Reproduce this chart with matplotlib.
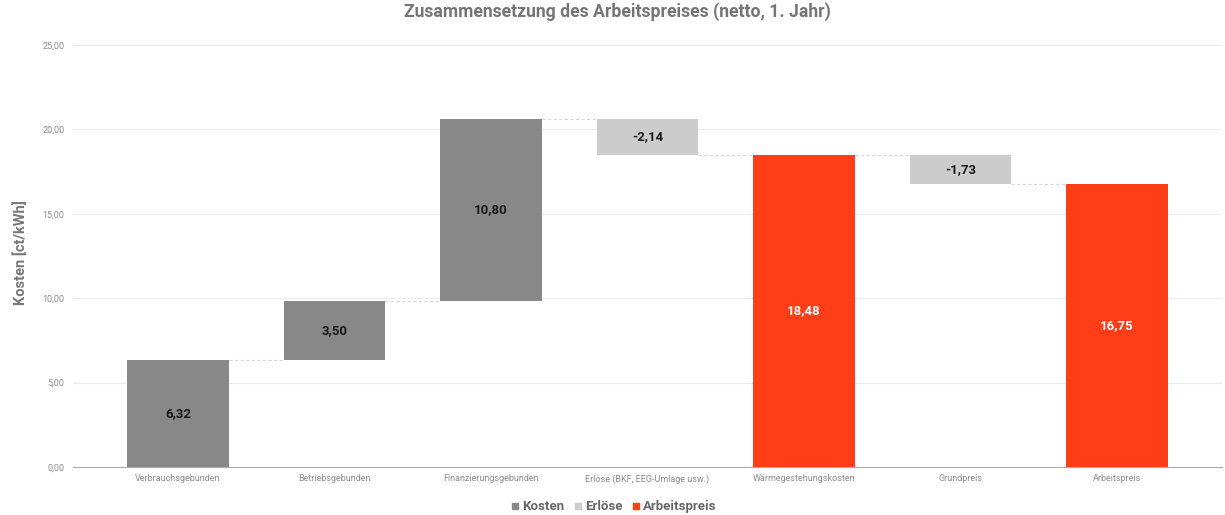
import numpy as np
import matplotlib.pyplot as plt

plt.rcParams['font.family'] = ['Roboto', 'DejaVu Sans']

# waterfall data (ct/kWh)
categories = ['Verbrauchsgebunden', 'Betriebsgebunden', 'Finanzierungsgebunden',
              'Erlöse (BKF, EEG-Umlage usw.)', 'Wärmegestehungskosten',
              'Grundpreis', 'Arbeitspreis']
values = [6.32, 3.50, 10.80, -2.14, 18.48, -1.73, 16.75]
kinds = ['Kosten', 'Kosten', 'Kosten', 'Erlöse', 'Arbeitspreis', 'Erlöse', 'Arbeitspreis']
totals = [False, False, False, False, True, False, True]

yticks = [0, 5, 10, 15, 20, 25]

colors = {'Kosten': '#888888', 'Erlöse': '#cccccc', 'Arbeitspreis': '#ff3d17'}
label_colors = {'Kosten': '#1a1a1a', 'Erlöse': '#1a1a1a', 'Arbeitspreis': '#ffffff'}

fig = plt.figure(figsize=(12.25, 5.15), dpi=100)
ax = fig.add_axes([73 / 1225, 48 / 515, 1149 / 1225, 422 / 515])

width = 0.65
x = np.arange(len(categories))

# running level for the floating bars
starts, ends = [], []
level = 0.0
for v, tot in zip(values, totals):
    if tot:
        s, e = 0.0, v
        level = v
    else:
        s, e = level, level + v
        level = e
    starts.append(s)
    ends.append(e)

for i in range(len(categories)):
    lo = min(starts[i], ends[i])
    h = abs(ends[i] - starts[i])
    ax.bar(x[i], h, bottom=lo, width=width, color=colors[kinds[i]], zorder=3)
    ax.text(x[i], lo + h / 2, f'{values[i]:.2f}'.replace('.', ','),
            ha='center', va='center', fontsize=9.5, fontweight='bold',
            color=label_colors[kinds[i]], zorder=4)

# dashed connectors between bars
for i in range(len(categories) - 1):
    ax.plot([x[i] + width / 2, x[i + 1] - width / 2], [ends[i], ends[i]],
            color='#d9d9d9', lw=0.8, ls=(0, (3, 2)), zorder=2)

ax.set_xlim(-0.67, len(categories) - 1 + 0.67)
ax.set_ylim(0, 25)
ax.set_yticks(yticks)
ax.set_yticklabels([f'{t:.2f}'.replace('.', ',') for t in yticks])
ax.set_xticks(x)
ax.set_xticklabels(categories)
ax.tick_params(axis='both', length=0, labelsize=6.5, colors='#8c8c8c')
ax.tick_params(axis='x', pad=5)
ax.tick_params(axis='y', pad=6)

ax.yaxis.grid(True, color='#ebebeb', lw=0.8, zorder=0)
ax.set_axisbelow(True)
for s in ['top', 'right', 'left']:
    ax.spines[s].set_visible(False)
ax.spines['bottom'].set_color('#aaaaaa')
ax.spines['bottom'].set_linewidth(0.8)
ax.spines['bottom'].set_zorder(5)

fig.text(21 / 1225, 0.51, 'Kosten [ct/kWh]', rotation=90, ha='center', va='center',
         fontsize=10.5, fontweight='bold', color='#777777')

fig.suptitle('Zusammensetzung des Arbeitspreises (netto, 1. Jahr)', x=0.504, y=0.995,
             fontsize=12.7, fontweight='bold', color='#757575')

# legend
handles = [plt.Line2D([], [], marker='s', ls='', color=colors[k], markersize=4)
           for k in ['Kosten', 'Erlöse', 'Arbeitspreis']]
leg = fig.legend(handles, ['Kosten', 'Erlöse', 'Arbeitspreis'], loc='center',
                 bbox_to_anchor=(0.5, 0.016), ncol=3, frameon=False,
                 handletextpad=0.05, columnspacing=0.5, handlelength=1.0,
                 prop={'size': 9.5, 'weight': 'bold'})
for t in leg.get_texts():
    t.set_color('#666666')

fig.savefig('out.png', dpi=100)
